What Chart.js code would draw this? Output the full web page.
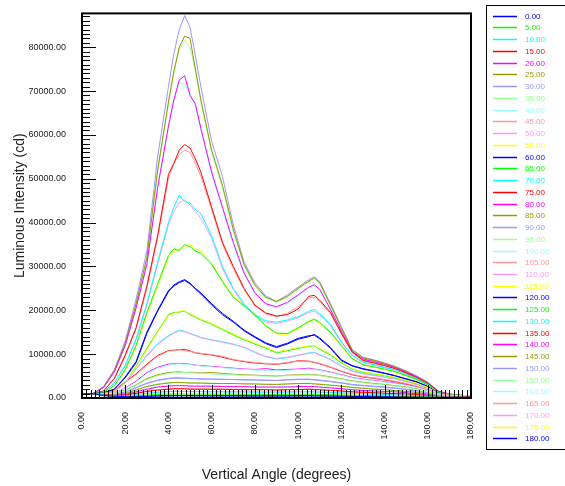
<!DOCTYPE html>
<html lang="en">
<head>
  <meta charset="UTF-8" />
  <title>Luminous Intensity</title>
  <script src="https://cdn.jsdelivr.net/npm/chart.js"></script>
  <style>
    body {
      margin: 0;
      padding: 0;
      background-color: #fff;
    }
    #wrap {
      width: 565px;
      height: 486px;
    }
  </style>
</head>
<body>
  <div id="wrap">
    <canvas id="lumChart" width="565" height="486"></canvas>
  </div>

  <script>
    // vertical angles (degrees) shared by every C-plane
    const angles = [0, 5, 10, 15, 20, 25, 30, 35, 40, 42.5, 45, 47.5, 50, 52.5,
      55, 60, 65, 70, 75, 80, 85, 90, 95, 100, 105, 107.5,
      110, 115, 120, 125, 130, 135, 140, 145, 150, 155, 160, 165, 170, 175, 180];

    // luminous intensity (cd), one array per C-plane
    const c0 = [900,1000,550,400,300,330,400,470,500, 510,520,520,510,500, 500,490,490,480,480,470,470,470,470,480,490, 490, 470,440,410,370,340,310,280,250,230,200,150,100,80,60,50];
    const c5 = [900,1000,600,450,400,480,650,800,880, 900,900,900,880,880, 880,860,850,850,850,830,820,820,830,850,850, 850, 820,760,700,640,580,520,480,430,390,340,250,150,120,100,100];
    const c10 = [900,1000,650,500,500,750,1050,1300,1450, 1500,1500,1500,1450,1450, 1450,1400,1400,1400,1400,1350,1350,1350,1350,1400,1400, 1400, 1350,1250,1150,1050,950,850,800,700,650,550,400,200,200,150,150];
    const c15 = [900,1000,700,550,650,1050,1500,1800,2000, 2100,2100,2100,2000,2000, 2000,2000,2000,1900,1900,1900,1900,1800,1900,1900,2000, 1900, 1900,1700,1600,1400,1300,1200,1100,1000,900,800,500,300,200,200,200];
    const c20 = [900,1000,700,600,800,1400,2000,2500,2700, 2800,2800,2800,2700,2700, 2700,2700,2600,2600,2600,2500,2500,2500,2500,2600,2600, 2600, 2500,2300,2100,1900,1700,1600,1500,1400,1200,1000,700,300,300,200,200];
    const c25 = [900,1000,800,700,1000,1800,2600,3100,3400, 3500,3500,3500,3400,3400, 3400,3300,3300,3300,3200,3200,3100,3100,3200,3300,3300, 3200, 3100,2900,2700,2400,2200,2000,1900,1700,1500,1300,900,400,300,300,300];
    const c30 = [900,1000,800,800,1300,2300,3300,4000,4400, 4500,4500,4500,4400,4400, 4300,4300,4200,4200,4100,4100,4000,4000,4100,4200,4200, 4100, 4000,3700,3400,3000,2800,2600,2400,2200,1900,1600,1100,500,400,400,300];
    const c35 = [900,1000,900,900,1700,2900,4200,5100,5600, 5800,5900,5800,5800,5700, 5600,5500,5400,5300,5200,5100,5000,5000,5100,5200,5300, 5200, 5100,4700,4300,3800,3500,3200,3000,2700,2400,2000,1400,600,500,400,400];
    const c40 = [900,1000,900,1000,2200,3600,5600,6800,7500, 7700,7800,7700,7600,7500, 7300,7100,6900,6700,6500,6400,6300,6200,6300,6500,6600, 6500, 6300,5800,5200,4600,4200,3900,3600,3300,2900,2400,1700,700,500,500,400];
    const c45 = [900,1000,1000,1500,3500,5300,7500,9500,10700, 10800,11000,10800,10600,10400, 10200,9900,9500,8800,8400,8100,7900,7800,8100,8400,8300, 8200, 7900,7100,6200,5400,4900,4600,4200,3800,3300,2700,1900,800,600,500,500];
    const c50 = [900,1000,1000,1200,3500,6500,9500,12200,14000, 14800,15300,15100,14600,14200, 13700,13200,12700,12200,11600,10500,9500,9000,9300,9800,10200, 10300, 9800,8700,7200,6100,5500,5100,4700,4300,3700,3000,2100,900,600,500,500];
    const c55 = [900,1000,1100,1400,3300,7000,11000,15000,18800, 19300,19800,19900,19200,18600, 18000,17000,15800,14600,13500,12500,11600,10500,11000,11500,11900, 12000, 11300,10000,8200,6700,6000,5600,5200,4700,4000,3300,2400,1000,700,500,500];
    const c60 = [900,1000,1200,2000,4800,8300,15000,20000,24500, 25500,26300,26800,26000,25000, 24000,21500,19300,17500,15500,14000,12600,11700,12500,13600,14200, 14300, 13500,11300,8500,7300,6600,6100,5600,5000,4300,3600,2600,1100,700,500,500];
    const c65 = [900,1000,1300,2800,6500,12000,19500,26000,32500, 34000,33600,35000,34500,33500, 33000,30500,26500,23000,21000,19000,16500,14800,14700,16000,17500, 18000, 17200,15000,12000,9000,7600,7100,6600,6000,5100,4200,3000,1200,800,600,500];
    const c70 = [900,1000,1400,3500,7500,13500,21500,31000,40000, 43500,46300,44800,44500,43000, 42000,37000,30000,25000,21500,19000,17600,17300,17800,18500,19800, 20200, 19200,16800,12800,9800,8200,7600,7000,6400,5400,4400,3100,1300,800,600,500];
    const c75 = [900,1000,1600,4500,9800,16000,25500,37000,51000, 53500,56500,57800,57000,54500, 51500,43500,35500,30000,25000,21200,19400,18700,19000,20300,23200, 23400, 22300,19500,14800,10500,8600,8000,7400,6700,5700,4600,3300,1400,800,600,500];
    const c80 = [900,1000,2400,6000,12000,20500,30500,48000,62000, 68000,72500,73500,69000,67000, 61500,51500,43500,35500,28500,24000,21500,20800,21800,23500,25300, 25800, 24800,20200,15300,10600,8900,8300,7700,6900,5900,4800,3400,1500,900,600,500];
    const c85 = [900,1000,2500,6300,12500,21500,32000,52000,67500, 74500,80000,82500,82000,75000, 68000,56500,48500,38500,30500,25800,23000,22000,23200,25000,26700, 27300, 26300,21200,16000,11000,9200,8600,7900,7100,6100,4900,3500,1500,900,600,500];
    const c90 = [900,1000,2600,6500,13000,22500,33500,55000,71000, 78500,84000,87200,84500,78000, 71000,58500,50500,39500,31000,26300,23300,22000,23500,25300,27000, 27700, 26500,21500,16300,11000,9300,8700,8000,7200,6200,5000,3600,1600,900,600,500];
    const c95 = [900,1000,2500,6200,12300,21200,31800,51500,67000, 74000,79500,81500,80000,74500, 67500,56000,48000,38000,30200,25500,22800,21800,23000,24800,26500, 27500, 26000,21000,15800,10800,9100,8500,7800,7000,6000,4800,3400,1500,900,600,500];
    const c100 = [900,1000,2400,6000,11800,20200,30000,47500,61500, 67500,72000,71500,69500,66500, 61000,51000,43000,35000,28200,23700,21200,20500,21500,23200,25000, 25500, 24500,20000,15100,10500,8800,8200,7600,6800,5800,4700,3300,1400,900,600,500];
    const c105 = [900,1000,1600,4400,9500,15700,25000,36500,50000, 53500,55500,56500,56000,53500, 50500,43000,35000,29500,24700,21000,19200,18500,19300,20800,22800, 23000, 22000,19200,14600,10300,8500,7900,7300,6600,5600,4500,3200,1400,800,600,500];
    const c110 = [900,1000,1400,3400,7300,13200,21000,30500,39500, 42500,44500,45200,44000,42500, 41000,36500,29500,24700,21200,18700,17300,17000,17500,18300,19500, 19800, 18900,16500,12600,9600,8100,7500,6900,6300,5300,4300,3000,1300,800,600,500];
    const c115 = [900,1000,1300,2700,6300,11700,19000,25500,32000, 33500,34000,34500,35000,34000, 33500,30800,26800,23200,21200,18800,16300,14600,14500,15800,17300, 17800, 17000,14800,11800,8900,7500,7000,6500,5900,5000,4100,2900,1200,800,600,500];
    const c120 = [900,1000,1200,2000,4600,8000,14700,19800,24200, 25800,26500,27000,26200,24800, 23700,21200,19000,17300,15300,13800,12400,11500,12300,13400,14000, 14500, 13700,11500,8700,7400,6700,6200,5700,5100,4400,3700,2700,1100,700,500,500];
    const c125 = [900,1000,1100,1500,3400,7200,11300,15200,19000, 19500,19600,19800,19000,18400, 17800,16800,15600,14400,13300,12300,11400,10300,10800,11300,11800, 11900, 11100,9800,8000,6600,5900,5500,5100,4600,3900,3200,2300,1000,700,500,500];
    const c130 = [900,1000,1000,1300,3600,6600,9700,12400,14200, 14900,15500,15200,14700,14300, 13800,13300,12800,12300,11500,10400,9400,8900,9200,9700,10300, 10400, 9900,8800,7300,6200,5600,5200,4800,4400,3800,3100,2200,900,600,500,500];
    const c135 = [900,1000,1000,1600,3700,5500,7700,9700,10800, 10900,11000,11100,10700,10300, 10100,9800,9300,8700,8300,8000,7800,7700,8000,8500,8400, 8100, 7800,7000,6100,5300,4800,4500,4100,3700,3200,2600,1800,800,600,500,500];
    const c140 = [900,1000,900,1100,2300,3800,5800,7000,7700, 7800,7900,7800,7700,7500, 7400,7200,7000,6800,6600,6500,6700,6400,6500,6600,6800, 6600, 6400,5900,5300,4700,4300,4000,3700,3400,3000,2500,1800,700,500,500,400];
    const c145 = [900,1000,900,900,1800,3000,4400,5300,5800, 5900,6000,5800,5900,5800, 5700,5800,5600,5400,5300,5200,5100,5000,5200,5300,5400, 5300, 5200,4800,4400,3900,3600,3300,3100,2800,2500,2100,1500,600,500,400,400];
    const c150 = [900,1000,800,800,1400,2400,3400,4100,4500, 4600,4600,4500,4500,4400, 4400,4300,4300,4200,4200,4100,4100,4000,4200,4300,4300, 4200, 4100,3800,3500,3100,2900,2700,2500,2300,2000,1700,1200,500,400,400,300];
    const c155 = [900,1000,800,700,1100,1900,2700,3200,3500, 3600,3600,3500,3500,3500, 3400,3400,3300,3300,3300,3200,3200,3100,3200,3300,3400, 3300, 3200,3000,2700,2500,2300,2100,1900,1700,1500,1300,900,400,300,300,300];
    const c160 = [900,1000,700,600,850,1500,2100,2600,2800, 2900,2900,2800,2800,2800, 2700,2700,2700,2600,2600,2600,2500,2500,2600,2600,2700, 2600, 2500,2400,2200,1900,1800,1600,1500,1400,1200,1000,700,300,300,200,200];
    const c165 = [900,1000,700,550,700,1100,1550,1850,2050, 2150,2150,2100,2100,2050, 2050,2000,2000,2000,1950,1900,1900,1850,1900,1950,2000, 1950, 1900,1750,1600,1450,1300,1200,1100,1000,900,750,500,300,200,200,200];
    const c170 = [900,1000,650,500,520,780,1080,1320,1480, 1520,1530,1500,1480,1460, 1450,1430,1420,1400,1400,1380,1360,1350,1380,1410,1430, 1420, 1370,1270,1170,1060,960,870,810,720,660,560,400,200,200,150,150];
    const c175 = [900,1000,600,450,400,500,670,820,900, 920,920,910,900,890, 880,870,860,860,850,840,830,820,840,850,860, 850, 830,770,710,650,590,530,490,440,400,350,260,150,120,100,100];
    const c180 = [900,1000,550,400,310,340,410,480,510, 520,530,520,510,510, 500,500,490,490,480,480,470,470,480,490,490, 490, 480,450,420,380,350,320,290,260,230,200,150,100,80,60,50];

    const cPlanes = [0, 5, 10, 15, 20, 25, 30, 35, 40, 45, 50, 55, 60, 65, 70, 75, 80, 85, 90,
      95, 100, 105, 110, 115, 120, 125, 130, 135, 140, 145, 150, 155, 160, 165, 170, 175, 180];
    const cValues = [c0, c5, c10, c15, c20, c25, c30, c35, c40, c45, c50, c55, c60, c65, c70, c75, c80, c85, c90,
      c95, c100, c105, c110, c115, c120, c125, c130, c135, c140, c145, c150, c155, c160, c165, c170, c175, c180];

    const xTicks = [0, 20, 40, 60, 80, 100, 120, 140, 160, 180];
    const yTicks = [0, 10000, 20000, 30000, 40000, 50000, 60000, 70000, 80000];

    // colour cycle of the photometry tool (12 colours, then repeats)
    const palette = ['#0000ff', '#00ff00', '#00ffff', '#ff0000', '#ff00ff', '#999900',
      '#9999ff', '#99ff99', '#99ffff', '#ff9999', '#ff99ff', '#ffff00'];

    const FONT = '"Liberation Sans", Arial, sans-serif';

    const datasets = cPlanes.map((c, i) => ({
      label: c.toFixed(2),
      data: angles.map((a, j) => ({ x: a, y: cValues[i][j] })),
      borderColor: palette[i % palette.length],
      backgroundColor: palette[i % palette.length],
      borderWidth: 1,
      pointRadius: 0,
      tension: 0,
      fill: false
    }));

    // inward minor/major ticks and the heavy frame round the plot
    const frameTicks = {
      id: 'frameTicks',
      afterDatasetsDraw(chart) {
        const { ctx, chartArea: a, scales: { x, y } } = chart;
        ctx.save();
        ctx.strokeStyle = '#000';
        ctx.lineWidth = 1;
        ctx.beginPath();
        for (let v = 0; v <= y.max; v += 1000) {
          const py = Math.round(y.getPixelForValue(v)) + 0.5;
          const len = v % 10000 === 0 ? 14 : 8;
          ctx.moveTo(a.left, py);
          ctx.lineTo(a.left + len, py);
        }
        for (let v = 0; v <= 180; v += 2) {
          const px = Math.round(x.getPixelForValue(v)) + 0.5;
          const len = v % 20 === 0 ? 13 : 8;
          ctx.moveTo(px, a.bottom);
          ctx.lineTo(px, a.bottom - len);
        }
        ctx.stroke();
        ctx.lineWidth = 2;
        ctx.strokeRect(a.left, a.top, a.right - a.left, a.bottom - a.top);
        ctx.restore();
      }
    };

    // boxed legend with coloured labels, right of the plot
    const sideLegend = {
      id: 'sideLegend',
      afterDraw(chart) {
        const { ctx, chartArea: a } = chart;
        const x0 = Math.round(a.right) + 15;
        ctx.save();
        ctx.strokeStyle = '#000';
        ctx.lineWidth = 1;
        ctx.strokeRect(x0 + 0.5, 5.5, chart.width - x0 + 2, 444);
        ctx.font = '8px ' + FONT;
        ctx.textBaseline = 'middle';
        ctx.textAlign = 'left';
        chart.data.datasets.forEach((ds, i) => {
          const y = Math.round(15.7 + i * 11.74) + 0.5;
          ctx.strokeStyle = ds.borderColor;
          ctx.lineWidth = 1.5;
          ctx.beginPath();
          ctx.moveTo(x0 + 7, y);
          ctx.lineTo(x0 + 31, y);
          ctx.stroke();
          ctx.fillStyle = ds.borderColor;
          ctx.fillText(ds.label, x0 + 39, y);
        });
        ctx.restore();
      }
    };

    const chart = new Chart(document.getElementById('lumChart'), {
      type: 'line',
      data: { datasets },
      plugins: [frameTicks, sideLegend],
      options: {
        responsive: false,
        devicePixelRatio: 1,
        animation: false,
        layout: { padding: { top: 8, right: 94, bottom: 0, left: 0 } },
        plugins: {
          legend: { display: false },
          tooltip: { enabled: false }
        },
        scales: {
          x: {
            type: 'linear',
            min: 0,
            max: 180,
            afterBuildTicks: (s) => { s.ticks = xTicks.map(v => ({ value: v })); },
            afterFit: (s) => { s.height = 88; },
            grid: { display: false },
            border: { display: false },
            ticks: {
              callback: (v) => v.toFixed(2),
              minRotation: 90,
              maxRotation: 90,
              padding: 6,
              color: '#222',
              font: { family: FONT, size: 9 }
            },
            title: {
              display: true,
              text: 'Vertical Angle (degrees)',
              color: '#222',
              padding: { top: 0, bottom: 2 },
              font: { family: FONT, size: 14 }
            }
          },
          y: {
            min: 0,
            max: 87700,
            afterBuildTicks: (s) => { s.ticks = yTicks.map(v => ({ value: v })); },
            afterFit: (s) => { s.width = 82; },
            grid: { display: false },
            border: { display: false },
            ticks: {
              callback: (v) => v.toFixed(2),
              padding: 8,
              color: '#222',
              font: { family: FONT, size: 9 }
            },
            title: {
              display: true,
              text: 'Luminous Intensity (cd)',
              color: '#222',
              padding: { top: 12, bottom: 0 },
              font: { family: FONT, size: 14 }
            }
          }
        }
      }
    });
  </script>
</body>
</html>
